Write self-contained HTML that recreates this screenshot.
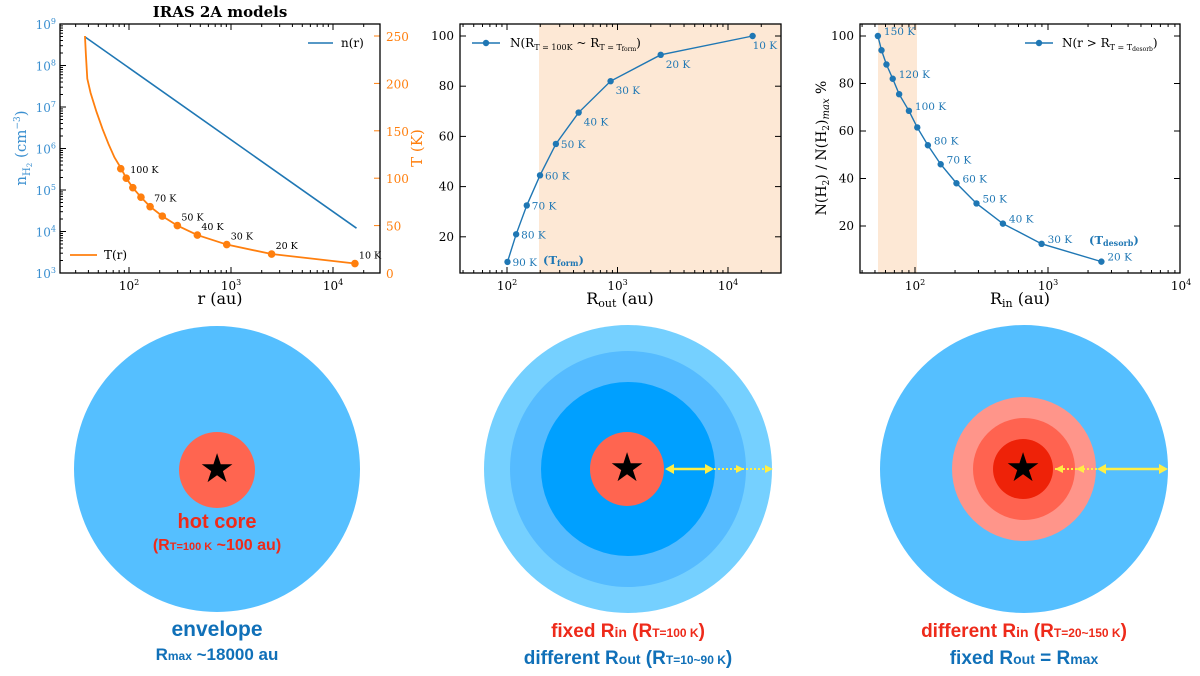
<!DOCTYPE html>
<html><head><meta charset="utf-8"><style>
body{margin:0;background:#fff}
svg{display:block}
.t{font-family:"DejaVu Serif","Liberation Serif",serif}
.s{font-family:"Liberation Sans",sans-serif;font-weight:bold}
</style></head><body>
<svg id="fig" width="1200" height="676" viewBox="0 0 1200 676" xmlns="http://www.w3.org/2000/svg">
<g id="p1"></g>
<g id="p2"></g>
<g id="p3"></g>

<g>
<circle cx="217" cy="469" r="143" fill="#55bfff"/>
<circle cx="217" cy="470" r="38" fill="#ff6550"/>
<text x="217" y="482" font-size="40" text-anchor="middle" fill="#000">★</text>
<text class="s" x="217" y="528" font-size="20" text-anchor="middle" fill="#ee2a1a">hot core</text>
<text class="s" x="217" y="550" font-size="16" text-anchor="middle" fill="#ee2a1a">(R<tspan font-size="11">T=100 K</tspan> ~100 au)</text>
<text class="s" x="217" y="636" font-size="21" text-anchor="middle" fill="#1070b8">envelope</text>
<text class="s" x="217" y="660" font-size="17" text-anchor="middle" fill="#1070b8">R<tspan font-size="12">max</tspan> ~18000 au</text>
</g>

<g>
<circle cx="628" cy="469" r="144" fill="#75d0ff"/>
<circle cx="628" cy="469" r="118" fill="#55bbff"/>
<circle cx="628" cy="469" r="87" fill="#00a0ff"/>
<circle cx="627" cy="469" r="37" fill="#ff6550"/>
<text x="627" y="481" font-size="40" text-anchor="middle" fill="#000">★</text>
<line x1="670" y1="469" x2="709" y2="469" stroke="#ffee44" stroke-width="2.5"/>
<polygon points="665,469 674,464 674,474" fill="#ffee44"/>
<polygon points="714,469 705,464 705,474" fill="#ffee44"/>
<line x1="714" y1="469" x2="770" y2="469" stroke="#ffee44" stroke-width="2" stroke-dasharray="2,2"/>
<polygon points="744,469 736,465 736,473" fill="#ffee44"/>
<polygon points="773,469 765,465 765,473" fill="#ffee44"/>
<text class="s" x="628" y="637" font-size="19" text-anchor="middle" fill="#ee2a1a">fixed R<tspan font-size="14">in</tspan> (R<tspan font-size="12">T=100 K</tspan>)</text>
<text class="s" x="628" y="664" font-size="19" text-anchor="middle" fill="#1070b8">different R<tspan font-size="14">out</tspan> (R<tspan font-size="12">T=10~90 K</tspan>)</text>
</g>

<g>
<circle cx="1024" cy="469" r="144" fill="#55bfff"/>
<circle cx="1024" cy="469" r="72" fill="#ff958a"/>
<circle cx="1024" cy="469" r="51" fill="#ff6350"/>
<circle cx="1023" cy="469" r="30" fill="#ee2208"/>
<text x="1023" y="481" font-size="40" text-anchor="middle" fill="#000">★</text>
<line x1="1055" y1="469" x2="1097" y2="469" stroke="#ffee44" stroke-width="2" stroke-dasharray="2,2"/>
<polygon points="1055,469 1063,465 1063,473" fill="#ffee44"/>
<polygon points="1076,469 1084,465 1084,473" fill="#ffee44"/>
<line x1="1100" y1="469" x2="1163" y2="469" stroke="#ffee44" stroke-width="2.5"/>
<polygon points="1097,469 1106,464 1106,474" fill="#ffee44"/>
<polygon points="1168,469 1159,464 1159,474" fill="#ffee44"/>
<text class="s" x="1024" y="637" font-size="19" text-anchor="middle" fill="#ee2a1a">different R<tspan font-size="14">in</tspan> (R<tspan font-size="12">T=20~150 K</tspan>)</text>
<text class="s" x="1024" y="664" font-size="19" text-anchor="middle" fill="#1070b8">fixed R<tspan font-size="14">out</tspan> = R<tspan font-size="14">max</tspan></text>
</g>
</svg>
<script>
// Panel 1 data
const densR = [37, 17000];
const densN = [4.9e8, 1.2e4];
const tempCurveR = [37, 37.8, 39, 42, 48, 55, 63, 72, 83, 94, 109, 131, 161, 212, 298, 468, 908, 2500, 16400];
const tempCurveT = [250, 230, 205, 190, 170, 152, 136, 122, 111, 100, 90, 80, 70, 60, 50, 40, 30, 20, 10];
const tempMarkR = [83, 94, 109, 131, 161, 212, 298, 468, 908, 2500, 16400];
const tempMarkT = [110, 100, 90, 80, 70, 60, 50, 40, 30, 20, 10];
const tempLabels = ['', '100 K', '', '', '70 K', '', '50 K', '40 K', '30 K', '20 K', '10 K'];
// Panel 2 data
const routR = [101, 121, 151, 199, 277, 445, 866, 2460, 16700];
const routN = [10, 21, 32.5, 44.5, 57, 69.5, 82, 92.5, 100];
const routLabels = ['90 K', '80 K', '70 K', '60 K', '50 K', '40 K', '30 K', '20 K', '10 K'];
// Panel 3 data
const rinR = [52.6, 56, 61, 68, 76, 90, 104, 125, 156, 205, 290, 458, 895, 2520];
const rinN = [100, 94, 88, 82, 75.5, 68.5, 61.5, 54, 46, 38, 29.5, 21, 12.5, 5];
const rinLabels = ['150 K', '', '', '120 K', '', '100 K', '', '80 K', '70 K', '60 K', '50 K', '40 K', '30 K', '20 K'];
const yTicks23 = [20, 40, 60, 80, 100];
const tTicks = [0, 50, 100, 150, 200, 250];
const nTicks = [3, 4, 5, 6, 7, 8, 9];

const NS = 'http://www.w3.org/2000/svg';
function mk(parent, tag, attrs, text) {
  const e = document.createElementNS(NS, tag);
  for (const k in attrs) e.setAttribute(k, attrs[k]);
  if (text !== undefined) e.textContent = text;
  parent.appendChild(e);
  return e;
}
const L = Math.log10;
const BLUE = '#1f77b4', ORANGE = '#ff7f0e';

function logXAxis(g, xf, x0, x1, yb, yt, decades) {
  for (let d = 0; d <= 5; d++) {
    for (let m = 1; m <= 9; m++) {
      const v = m * Math.pow(10, d);
      const x = xf(v);
      if (x < x0 + 0.5 || x > x1 - 0.5) continue;
      const len = m === 1 ? 6 : 3;
      const t = mk(g, 'line', {x1: x, x2: x, y1: yb, y2: yb - len, stroke: '#000', 'stroke-width': 1});
      
      
      const t2 = mk(g, 'line', {x1: x, x2: x, y1: yt, y2: yt + len, stroke: '#000', 'stroke-width': 1});
      
      
    }
  }
  decades.forEach(d => {
    const tx = mk(g, 'text', {x: xf(Math.pow(10, d)), y: yb + 17, 'font-size': 12, 'text-anchor': 'middle', class: 't', fill: '#000'});
    
    
    tx.innerHTML = '10<tspan dy="-5" font-size="8">' + d + '</tspan>';
  });
}
function frame(g, x0, y0, x1, y1) {
  const r = mk(g, 'rect', {x: x0, y: y0, width: x1 - x0, height: y1 - y0, fill: 'none', stroke: '#000', 'stroke-width': 1.3});
  
  
}
function lineTo(g, xs, ys, col, w, name) {
  const p = mk(g, 'polyline', {points: xs.map((x, i) => x + ',' + ys[i]).join(' '), fill: 'none', stroke: col, 'stroke-width': w});
  
  
}
function dot(g, x, y, col, r, name) {
  const c = mk(g, 'circle', {cx: x, cy: y, r: r, fill: col});
  
  
}

// ---------- Panel 1 ----------
(function () {
  const g = document.getElementById('p1');
  const x0 = 60, x1 = 380, yt = 24, yb = 273;
  const xf = r => 129 + (L(r) - 2) * 102;
  const yN = n => 273 - (L(n) - 3) * 41.5;
  const yT = t => 273 - t * 0.948;
  logXAxis(g, xf, x0, x1, yb, yt, [2, 3, 4]);
  nTicks.forEach(d => {
    const y = yN(Math.pow(10, d));
    const tk = mk(g, 'line', {x1: x0, x2: x0 + 6, y1: y, y2: y, stroke: '#000'});
    
    
    for (let m = 2; m <= 9 && d < 9; m++) {
      const ym = yN(m * Math.pow(10, d));
      const mt = mk(g, 'line', {x1: x0, x2: x0 + 3, y1: ym, y2: ym, stroke: '#000'});
      
      
    }
    const tx = mk(g, 'text', {x: x0 - 4, y: y + 5, 'font-size': 12, 'text-anchor': 'end', class: 't', fill: '#3a8fd0'});
    
    
    tx.innerHTML = '10<tspan dy="-5" font-size="8">' + d + '</tspan>';
  });
  tTicks.forEach(v => {
    const y = yT(v);
    const tk = mk(g, 'line', {x1: x1, x2: x1 - 6, y1: y, y2: y, stroke: ORANGE});
    
    
    const tx = mk(g, 'text', {x: x1 + 6, y: y + 5, 'font-size': 12, class: 't', fill: ORANGE}, String(v));
    
    
  });
  lineTo(g, densR.map(xf), densN.map(yN), BLUE, 1.6, 'density-line');
  lineTo(g, tempCurveR.map(xf), tempCurveT.map(yT), ORANGE, 1.8, 'temperature-line');
  tempMarkR.forEach((r, i) => {
    dot(g, xf(r), yT(tempMarkT[i]), ORANGE, 3.8, 'temperature-marker');
    if (tempLabels[i]) {
      const tx = mk(g, 'text', {x: xf(r) + 4, y: yT(tempMarkT[i]) - 5, 'font-size': 9.5, class: 't', fill: '#000'}, tempLabels[i]);
      
      
    }
  });
  frame(g, x0, yt, x1, yb);
  const title = mk(g, 'text', {x: 220, y: 17, 'font-size': 15, 'font-weight': 'bold', 'text-anchor': 'middle', class: 't'}, 'IRAS 2A models');
  
  
  const xl = mk(g, 'text', {x: 220, y: 304, 'font-size': 16, 'text-anchor': 'middle', class: 't'}, 'r (au)');
  
  
  const yl = mk(g, 'text', {x: 0, y: 0, 'font-size': 15, 'text-anchor': 'middle', class: 't', fill: '#3a8fd0', transform: 'translate(26,148) rotate(-90)'});
  
  
  yl.innerHTML = 'n<tspan font-size="10" dy="4">H</tspan><tspan font-size="7" dy="2">2</tspan><tspan dy="-6"> (cm</tspan><tspan font-size="9" dy="-6">−3</tspan><tspan dy="6">)</tspan>';
  const yr = mk(g, 'text', {x: 0, y: 0, 'font-size': 15, 'text-anchor': 'middle', class: 't', fill: ORANGE, transform: 'translate(422,148) rotate(-90)'}, 'T (K)');
  
  
  lineTo(g, [308, 333], [43, 43], BLUE, 1.6, 'legend-n-swatch');
  const l1 = mk(g, 'text', {x: 341, y: 47, 'font-size': 12, class: 't'}, 'n(r)');
  
  
  lineTo(g, [70, 97], [255, 255], ORANGE, 1.8, 'legend-t-swatch');
  const l2 = mk(g, 'text', {x: 104, y: 259, 'font-size': 12, class: 't'}, 'T(r)');
  
  
})();

// ---------- Panel 2 ----------
(function () {
  const g = document.getElementById('p2');
  const x0 = 460, x1 = 781, yt = 24, yb = 273;
  const xf = r => 507 + (L(r) - 2) * 110.5;
  const yf = v => 287 - v * 2.51;
  const sh = mk(g, 'rect', {x: 539, y: yt, width: x1 - 539, height: yb - yt, fill: '#fde8d5'});
  
  
  logXAxis(g, xf, x0, x1, yb, yt, [2, 3, 4]);
  yTicks23.forEach(v => {
    const y = yf(v);
    const a = mk(g, 'line', {x1: x0, x2: x0 + 6, y1: y, y2: y, stroke: '#000'});
    
    
    const b = mk(g, 'line', {x1: x1, x2: x1 - 6, y1: y, y2: y, stroke: '#000'});
    
    
    const tx = mk(g, 'text', {x: x0 - 6, y: y + 4, 'font-size': 12, 'text-anchor': 'end', class: 't'}, String(v));
    
    
  });
  lineTo(g, routR.map(xf), routN.map(yf), BLUE, 1.4, 'rout-line');
  routR.forEach((r, i) => {
    dot(g, xf(r), yf(routN[i]), BLUE, 3.2, 'rout-marker');
    const last = i === routR.length - 1;
    const tx = mk(g, 'text', {x: xf(r) + (last ? 0 : 5), y: yf(routN[i]) + (i >= 5 ? 13 : 4), 'font-size': 10.5, class: 't', fill: BLUE}, routLabels[i]);
    
    
  });
  const tf = mk(g, 'text', {x: 543, y: 264, 'font-size': 11.5, 'font-weight': 'bold', class: 't', fill: BLUE});
  
  
  tf.innerHTML = '(T<tspan font-size="8" dy="2">form</tspan><tspan dy="-2">)</tspan>';
  frame(g, x0, yt, x1, yb);
  lineTo(g, [472, 500], [43, 43], BLUE, 1.4, 'legend-swatch');
  dot(g, 486, 43, BLUE, 3.2, 'legend-marker');
  const lg = mk(g, 'text', {x: 510, y: 47, 'font-size': 12, class: 't'});
  
  
  lg.innerHTML = 'N(R<tspan font-size="8" dy="3">T = 100K</tspan><tspan dy="-3"> ~ R</tspan><tspan font-size="8" dy="3">T = T</tspan><tspan font-size="6" dy="1">form</tspan><tspan dy="-4">)</tspan>';
  const xl = mk(g, 'text', {x: 620, y: 304, 'font-size': 16, 'text-anchor': 'middle', class: 't'});
  
  
  xl.innerHTML = 'R<tspan font-size="11" dy="3">out</tspan><tspan dy="-3"> (au)</tspan>';
})();

// ---------- Panel 3 ----------
(function () {
  const g = document.getElementById('p3');
  const x0 = 860, x1 = 1180, yt = 24, yb = 273;
  const xf = r => 915 + (L(r) - 2) * 133;
  const yf = v => 273.5 - v * 2.375;
  const sh = mk(g, 'rect', {x: 878, y: yt, width: 39, height: yb - yt, fill: '#fde8d5'});
  
  
  logXAxis(g, xf, x0, x1 + 1, yb, yt, [2, 3, 4]);
  yTicks23.forEach(v => {
    const y = yf(v);
    const a = mk(g, 'line', {x1: x0, x2: x0 + 6, y1: y, y2: y, stroke: '#000'});
    
    
    const b = mk(g, 'line', {x1: x1, x2: x1 - 6, y1: y, y2: y, stroke: '#000'});
    
    
    const tx = mk(g, 'text', {x: x0 - 6, y: y + 4, 'font-size': 12, 'text-anchor': 'end', class: 't'}, String(v));
    
    
  });
  lineTo(g, rinR.map(xf), rinN.map(yf), BLUE, 1.4, 'rin-line');
  rinR.forEach((r, i) => {
    dot(g, xf(r), yf(rinN[i]), BLUE, 3.2, 'rin-marker');
    if (rinLabels[i]) {
      const tx = mk(g, 'text', {x: xf(r) + 6, y: yf(rinN[i]) - 1, 'font-size': 10.5, class: 't', fill: BLUE}, rinLabels[i]);
      
      
    }
  });
  const td = mk(g, 'text', {x: 1089, y: 244, 'font-size': 11.5, 'font-weight': 'bold', class: 't', fill: BLUE});
  
  
  td.innerHTML = '(T<tspan font-size="8" dy="2">desorb</tspan><tspan dy="-2">)</tspan>';
  frame(g, x0, yt, x1, yb);
  lineTo(g, [1025, 1053], [43, 43], BLUE, 1.4, 'legend-swatch');
  dot(g, 1039, 43, BLUE, 3.2, 'legend-marker');
  const lg = mk(g, 'text', {x: 1062, y: 47, 'font-size': 12, class: 't'});
  
  
  lg.innerHTML = 'N(r &gt; R<tspan font-size="8" dy="3">T = T</tspan><tspan font-size="6" dy="1">desorb</tspan><tspan dy="-4">)</tspan>';
  const xl = mk(g, 'text', {x: 1020, y: 304, 'font-size': 16, 'text-anchor': 'middle', class: 't'});
  
  
  xl.innerHTML = 'R<tspan font-size="11" dy="3">in</tspan><tspan dy="-3"> (au)</tspan>';
  const yl = mk(g, 'text', {x: 0, y: 0, 'font-size': 14, 'text-anchor': 'middle', class: 't', transform: 'translate(826,148) rotate(-90)'});
  
  
  yl.innerHTML = 'N(H<tspan font-size="9" dy="3">2</tspan><tspan dy="-3">) / N(H</tspan><tspan font-size="9" dy="3">2</tspan><tspan dy="-3">)</tspan><tspan font-size="10" dy="3" font-style="italic">max</tspan><tspan dy="-3"> %</tspan>';
})();
</script>
</body></html>
